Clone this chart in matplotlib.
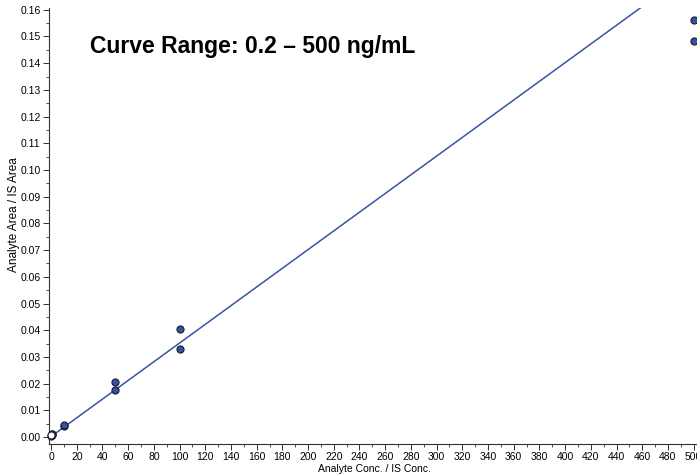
import numpy as np
import matplotlib.pyplot as plt
from matplotlib.ticker import MultipleLocator, FormatStrFormatter

# calibration standards (replicates)
conc = [0.2, 0.5, 1, 1, 10, 10, 50, 50, 100, 100, 500, 500]
ratio = [0.0004, 0.0007, 0.0011, 0.0013, 0.0041, 0.0046, 0.0205, 0.0175, 0.0406, 0.0328, 0.1562, 0.1483]
excluded_conc = [0.2]
excluded_ratio = [0.0009]

# fitted line
slope = 0.000350
intercept = 0.0002

plt.rcParams['font.family'] = ['Liberation Sans', 'DejaVu Sans']

fig = plt.figure(figsize=(6.97, 4.74), dpi=100)
ax = fig.add_axes([0.0703, 0.0633, 0.935, 0.920])

xfit = np.linspace(0, 520, 50)
ax.plot(xfit, intercept + slope * xfit, color="#3a52a8", lw=1.1, zorder=2)
ax.scatter(conc, ratio, s=26, facecolor="#3552a5", edgecolor="#1a1a2a", linewidth=0.8, zorder=3, clip_on=False)
ax.scatter(excluded_conc, excluded_ratio, s=26, facecolor="white", edgecolor="#1a1a2a", linewidth=0.8, zorder=4, clip_on=False)

ax.set_xlim(-1.6, 505.5)
ax.set_ylim(-0.0026, 0.1607)

ax.xaxis.set_major_locator(MultipleLocator(20))
ax.xaxis.set_minor_locator(MultipleLocator(10))
ax.yaxis.set_major_locator(MultipleLocator(0.01))
ax.yaxis.set_minor_locator(MultipleLocator(0.005))
ax.yaxis.set_major_formatter(FormatStrFormatter("%.2f"))

for s in ["top", "right"]:
    ax.spines[s].set_visible(False)
for s in ["left", "bottom"]:
    ax.spines[s].set_linewidth(0.8)
    ax.spines[s].set_color("#333333")

ax.tick_params(which="major", length=4, width=0.7, labelsize=7.5, pad=2, color="#333333")
ax.tick_params(which="minor", length=2, width=0.6, color="#333333")

ax.set_xlabel("Analyte Conc. / IS Conc.", fontsize=7.5, labelpad=1)
ax.set_ylabel("Analyte Area / IS Area", fontsize=8.5)
ax.yaxis.set_label_coords(-0.045, 0.525)

ax.text(0.063, 0.912, "Curve Range: 0.2 \u2013 500 ng/mL", transform=ax.transAxes,
        fontsize=16.5, fontweight="bold", va="center")

fig.savefig("out.png", dpi=100)
